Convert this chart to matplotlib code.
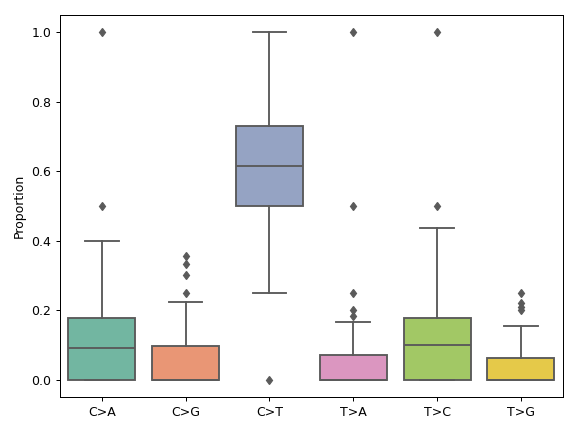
import matplotlib
matplotlib.use("Agg")
import matplotlib.pyplot as plt
import colorsys
import matplotlib.colors as mcolors

categories = ["C>A", "C>G", "C>T", "T>A", "T>C", "T>G"]
q1 = [0.0, 0.0, 0.5, 0.0, 0.0, 0.0]
median = [0.0926, 0.0, 0.615, 0.0, 0.1, 0.0]
q3 = [0.178, 0.097, 0.73, 0.0714, 0.178, 0.0625]
whislo = [0.0, 0.0, 0.25, 0.0, 0.0, 0.0]
whishi = [0.4, 0.224, 1.0, 0.167, 0.4375, 0.155]
fliers = [
    [0.5, 1.0],
    [0.25, 0.3, 0.333, 0.357],
    [0.0],
    [0.182, 0.2, 0.25, 0.5, 1.0],
    [0.5, 1.0],
    [0.2, 0.21, 0.222, 0.25],
]
base_colors = ["#66c2a5", "#fc8d62", "#8da0cb", "#e78ac3", "#a6d854", "#ffd92f"]


def desaturate(c, prop=0.75):
    r, g, b = mcolors.to_rgb(c)
    h, l, s = colorsys.rgb_to_hls(r, g, b)
    return colorsys.hls_to_rgb(h, l, s * prop)


colors = [desaturate(c) for c in base_colors]
gray = "#5a5a5a"

stats = []
for i, cat in enumerate(categories):
    stats.append(dict(label=cat, q1=q1[i], med=median[i], q3=q3[i],
                      whislo=whislo[i], whishi=whishi[i], fliers=fliers[i]))

fig, ax = plt.subplots(figsize=(6.4, 4.8), dpi=90)
fig.subplots_adjust(left=0.104, right=0.977, top=0.965, bottom=0.081)
bp = ax.bxp(stats, positions=range(len(categories)), widths=0.8,
            patch_artist=True,
            boxprops=dict(edgecolor=gray, linewidth=1.5),
            medianprops=dict(color=gray, linewidth=1.5),
            whiskerprops=dict(color=gray, linewidth=1.5),
            capprops=dict(color=gray, linewidth=1.5),
            flierprops=dict(marker="d", markerfacecolor=gray, markeredgecolor=gray,
                            markersize=5, linestyle="none"))
for patch, c in zip(bp["boxes"], colors):
    patch.set_facecolor(c)

ax.set_xlim(-0.5, len(categories) - 0.5)
ax.set_ylim(-0.05, 1.05)
ax.set_ylabel("Proportion")
fig.savefig("out.png", dpi=90)
